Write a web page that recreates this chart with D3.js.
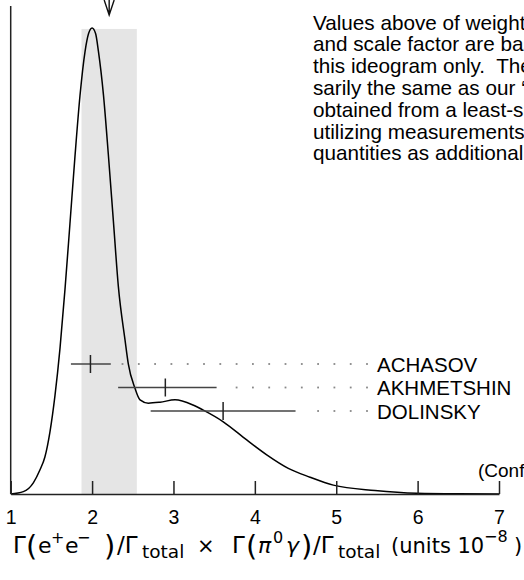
<!DOCTYPE html>
<html>
<head>
<meta charset="utf-8">
<script src="https://cdn.jsdelivr.net/npm/d3@7"></script>
<style>
  html, body { margin: 0; padding: 0; background: #fff; }
  svg { display: block; }
  text { white-space: pre; }
</style>
</head>
<body>
<svg id="chart" width="524" height="580"></svg>
<script>
// ---------- data ----------
const xTicks = [1, 2, 3, 4, 5, 6, 7];
const names = ["ACHASOV", "AKHMETSHIN", "DOLINSKY"];
const values = [1.98, 2.90, 3.61];
const errLo = [0.24, 0.58, 0.89];
const errHi = [0.25, 0.63, 0.89];
const average = 2.21;
const averageErr = 0.34;
// ideogram curve (x in units 1e-8, y relative height)
const curveX = [1.00, 1.155, 1.278, 1.36, 1.421, 1.483, 1.544, 1.606, 1.667, 1.728, 1.790, 1.851, 1.913, 1.957, 2.00,
  2.043, 2.078, 2.14, 2.20, 2.262, 2.323, 2.405, 2.445, 2.527, 2.589, 2.691, 2.835, 3.019, 3.24, 3.367, 3.612,
  3.90, 4.146, 4.411, 4.678, 4.964, 5.476, 5.99, 6.5, 7.0];
const curveY = [0.000, 0.005, 0.024, 0.052, 0.080, 0.134, 0.211, 0.313, 0.439, 0.580, 0.725, 0.854, 0.949, 0.988, 1.000,
  0.988, 0.950, 0.856, 0.728, 0.585, 0.445, 0.330, 0.279, 0.227, 0.202, 0.195, 0.197, 0.202, 0.191, 0.180, 0.155,
  0.116, 0.084, 0.055, 0.036, 0.019, 0.0075, 0.0015, 0.0003, 0.000];
const noteLines = [
  "Values above of weighted average, error,",
  "and scale factor are based upon the data in",
  "this ideogram only.  They are not neces-",
  "sarily the same as our \u2018best\u2019 values,",
  "obtained from a least-squares constrained fit",
  "utilizing measurements of other (related)",
  "quantities as additional information."
];
const confText = "(Confidence Level = 0.050)";

// ---------- layout ----------
const svg = d3.select("#chart");
const x = d3.scaleLinear().domain([1, 7]).range([10.7, 499]);
const y = d3.scaleLinear().domain([0, 1]).range([494, 28]);
const row = d3.scalePoint().domain(names).range([364, 411]);
const font = "'Liberation Sans', Arial, Helvetica, sans-serif";

// shaded band: weighted average +- error
svg.append("rect")
  .attr("x", x(average - averageErr))
  .attr("width", x(average + averageErr) - x(average - averageErr))
  .attr("y", y(0.998))
  .attr("height", y(0) - y(0.998))
  .attr("fill", "#e5e5e5");

// arrow at weighted average
const ax = x(average);
svg.append("path")
  .attr("d", `M${ax},0 L${ax},15 M${ax - 5},0 L${ax},15 L${ax + 5},0`)
  .attr("fill", "none").attr("stroke", "#111").attr("stroke-width", 1.4);

// curve
const pts = curveX.map((d, i) => [d, curveY[i]]);
svg.append("path")
  .attr("d", d3.line().x(d => x(d[0])).y(d => y(d[1])).curve(d3.curveMonotoneX)(pts))
  .attr("fill", "none").attr("stroke", "#000").attr("stroke-width", 1.5);

// axes
const xAxis = d3.axisBottom(x).tickValues(xTicks).tickFormat(d3.format("d"))
  .tickSize(-13).tickSizeOuter(0).tickPadding(16);
const gx = svg.append("g").attr("transform", `translate(0,${y(0)})`).call(xAxis);
gx.select(".domain").attr("stroke", "#222").attr("stroke-width", 1.5);
gx.selectAll(".tick line").attr("stroke", "#222").attr("stroke-width", 1.5);
gx.selectAll(".tick text").attr("font-family", font).attr("font-size", 19.5).attr("fill", "#000");

svg.append("line")
  .attr("x1", x(1)).attr("x2", x(1)).attr("y1", 6).attr("y2", y(0))
  .attr("stroke", "#222").attr("stroke-width", 1.5);

// measurements
const labelX = 377, dotEnd = 367, dotStep = 16.3;
names.forEach((n, i) => {
  const yy = row(n);
  const x0 = x(values[i] - errLo[i]), x1 = x(values[i] + errHi[i]);
  svg.append("line").attr("x1", x0).attr("x2", x1).attr("y1", yy).attr("y2", yy)
    .attr("stroke", "#444").attr("stroke-width", 1.5);
  svg.append("line").attr("x1", x(values[i])).attr("x2", x(values[i]))
    .attr("y1", yy - 9).attr("y2", yy + 9)
    .attr("stroke", "#222").attr("stroke-width", 1.5);
  const dots = [];
  for (let dx = dotEnd; dx > x1 + 10; dx -= dotStep) dots.push(dx);
  svg.selectAll(null).data(dots).enter().append("rect")
    .attr("x", d => d - 0.9).attr("y", yy - 0.9).attr("width", 1.8).attr("height", 1.8)
    .attr("fill", "#888");
  svg.append("text").attr("x", labelX).attr("y", yy + 7.5)
    .attr("font-family", font).attr("font-size", 20.5).attr("fill", "#000").text(n);
});

// notes
svg.append("g").selectAll("text").data(noteLines).enter().append("text")
  .attr("x", 313).attr("y", (d, i) => 29.5 + i * 21.8)
  .attr("font-family", font).attr("font-size", 20.7).attr("fill", "#000")
  .text(d => d);

svg.append("text").attr("x", 478).attr("y", 477)
  .attr("font-family", font).attr("font-size", 19).attr("fill", "#000").text(confText);

// axis title
const tf = "'DejaVu Sans', sans-serif";
const pieces = [
  {t: "\u0393", x: 13, y: 553, s: 23},
  {t: "(", x: 26, y: 556, s: 29},
  {t: "e", x: 38, y: 553, s: 22},
  {t: "+", x: 51, y: 543, s: 16},
  {t: "e", x: 65, y: 553, s: 22},
  {t: "\u2212", x: 77, y: 543, s: 16},
  {t: ")", x: 104, y: 556, s: 29},
  {t: "/\u0393", x: 117, y: 553, s: 23},
  {t: "total", x: 142, y: 558, s: 18.5},
  {t: "\u00d7", x: 197, y: 553, s: 21},
  {t: "\u0393", x: 232, y: 553, s: 23},
  {t: "(", x: 246, y: 556, s: 29},
  {t: "\u03c0", x: 258, y: 553, s: 22, it: true},
  {t: "0", x: 273, y: 543, s: 16},
  {t: "\u03b3", x: 286, y: 553, s: 22, it: true},
  {t: ")", x: 301, y: 556, s: 29},
  {t: "/\u0393", x: 313, y: 553, s: 23},
  {t: "total", x: 338, y: 558, s: 18.5},
  {t: "(units 10", x: 391, y: 553, s: 21},
  {t: "\u22128", x: 484, y: 542, s: 16},
  {t: ")", x: 514, y: 553, s: 21}
];
svg.append("g").selectAll("text").data(pieces).enter().append("text")
  .attr("x", d => d.x).attr("y", d => d.y)
  .attr("font-family", tf).attr("font-size", d => d.s)
  .attr("font-style", d => d.it ? "italic" : "normal")
  .attr("fill", "#000").text(d => d.t);
</script>
</body>
</html>
